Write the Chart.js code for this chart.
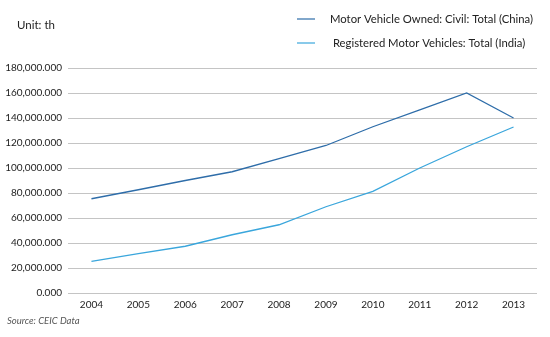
<!DOCTYPE html>
<html>
<head>
<meta charset="utf-8">
<script src="https://cdn.jsdelivr.net/npm/chart.js@4/dist/chart.umd.min.js"></script>
<style>
html,body{margin:0;padding:0;background:#fff;}
#wrap{position:relative;width:550px;height:337px;}
</style>
</head>
<body>
<div id="wrap"><canvas id="c" width="550" height="337"></canvas></div>
<script>
const years = ['2004','2005','2006','2007','2008','2009','2010','2011','2012','2013'];
const chinaValues = [75400, 82600, 90000, 97000, 107500, 118000, 133000, 146500, 160000, 140000];
const indiaValues = [25300, 31500, 37400, 46600, 54600, 69000, 81300, 100000, 117000, 132800];
const yTicks = [0, 20000, 40000, 60000, 80000, 100000, 120000, 140000, 160000, 180000];
const chinaLabel = 'Motor Vehicle Owned: Civil: Total (China)';
const indiaLabel = ' Registered Motor Vehicles: Total (India)';
const unitText = 'Unit: th';
const sourceText = 'Source: CEIC Data';
const chinaColor = '#2e6da9';
const indiaColor = '#3aa6dc';
const FONT = 'Lato, "Open Sans", sans-serif';

function fmt(v){
  return v.toLocaleString('en-US', {minimumFractionDigits:3, maximumFractionDigits:3});
}

const extras = {
  id: 'extras',
  afterDraw(chart){
    const ctx = chart.ctx;
    ctx.save();
    ctx.fillStyle = '#222';
    ctx.font = '11.5px ' + FONT;
    ctx.textBaseline = 'middle';
    ctx.textAlign = 'left';
    ctx.fillText(unitText, 17, 25);
    ctx.font = '11.3px ' + FONT;
    const items = [[chinaLabel, chinaColor, 19], [indiaLabel, indiaColor, 43]];
    items.forEach(([t, col, y]) => {
      ctx.strokeStyle = col;
      ctx.lineWidth = 1.2;
      ctx.beginPath();
      ctx.moveTo(297, y); ctx.lineTo(315, y); ctx.stroke();
      ctx.fillStyle = '#222';
      ctx.fillText(t, 330, y);
    });
    ctx.font = 'italic 9.5px ' + FONT;
    ctx.fillStyle = '#555';
    ctx.fillText(sourceText, 7, 321);
    ctx.restore();
  }
};

new Chart(document.getElementById('c'), {
  type: 'line',
  data: {
    labels: years,
    datasets: [
      {label: chinaLabel, data: chinaValues, borderColor: chinaColor, borderWidth: 1.3, pointRadius: 0, tension: 0, fill: false},
      {label: indiaLabel, data: indiaValues, borderColor: indiaColor, borderWidth: 1.3, pointRadius: 0, tension: 0, fill: false}
    ]
  },
  options: {
    responsive: false,
    animation: false,
    devicePixelRatio: 1,
    layout: {padding: {top: 68, right: 13, bottom: 0, left: 0}},
    plugins: {legend: {display: false}, tooltip: {enabled: false}},
    scales: {
      x: {
        offset: true,
        grid: {display: false, drawTicks: false},
        border: {display: false},
        ticks: {padding: 6, color: '#222', font: {family: FONT, size: 10}, maxRotation: 0},
        afterFit(s){ s.height = 44; }
      },
      y: {
        min: yTicks[0], max: yTicks[yTicks.length - 1],
        afterBuildTicks(s){ s.ticks = yTicks.map(v => ({value: v})); },
        grid: {color: '#c4c4c4', lineWidth: 1, drawTicks: false},
        border: {display: false},
        ticks: {padding: 6, color: '#222', font: {family: FONT, size: 10}, callback: v => fmt(v)},
        afterFit(s){ s.width = 68; }
      }
    }
  },
  plugins: [extras]
});
</script>
</body>
</html>
